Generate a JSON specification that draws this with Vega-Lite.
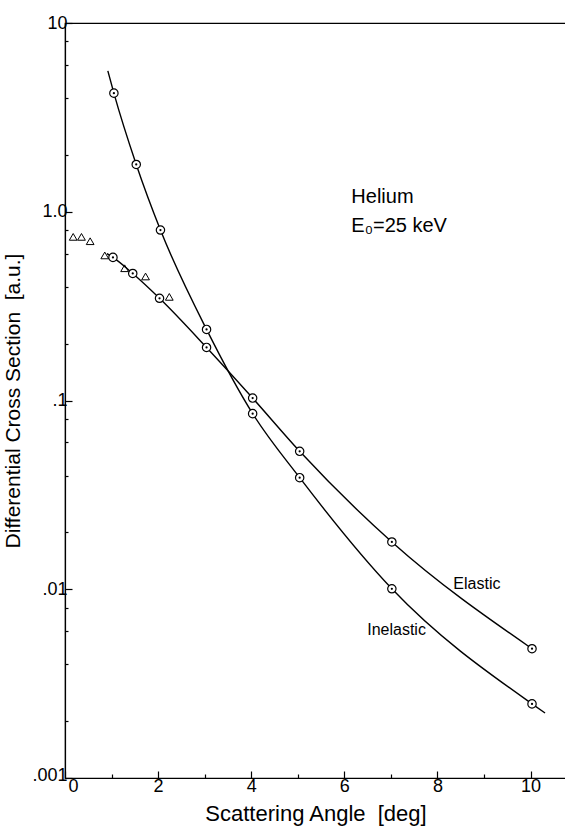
{
  "$schema": "https://vega.github.io/schema/vega-lite/v6.json",
  "width": 501,
  "height": 755,
  "autosize": "none",
  "padding": {"left": 65, "top": 23, "right": 0, "bottom": 54},
  "background": "white",
  "config": {
    "view": {"stroke": "black", "strokeWidth": 1.2},
    "font": "Liberation Sans",
    "axis": {
      "domainColor": "black",
      "tickColor": "black",
      "labelColor": "black",
      "titleColor": "black",
      "labelFont": "Liberation Sans",
      "titleFont": "Liberation Sans",
      "titleFontWeight": "normal",
      "grid": false,
      "ticks": true
    }
  },
  "datasets": {
    "curves": [
      {"series": "Inelastic", "x": 0.92, "y": 5.58},
      {"series": "Inelastic", "x": 1.05, "y": 4.25},
      {"series": "Inelastic", "x": 1.53, "y": 1.78},
      {"series": "Inelastic", "x": 2.05, "y": 0.80},
      {"series": "Inelastic", "x": 3.04, "y": 0.238},
      {"series": "Inelastic", "x": 4.03, "y": 0.0852},
      {"series": "Inelastic", "x": 5.04, "y": 0.039},
      {"series": "Inelastic", "x": 7.02, "y": 0.01006},
      {"series": "Inelastic", "x": 10.03, "y": 0.00247},
      {"series": "Inelastic", "x": 10.31, "y": 0.00221},
      {"series": "Elastic", "x": 0.9, "y": 0.6},
      {"series": "Elastic", "x": 1.03, "y": 0.573},
      {"series": "Elastic", "x": 1.455, "y": 0.471},
      {"series": "Elastic", "x": 2.03, "y": 0.348},
      {"series": "Elastic", "x": 3.04, "y": 0.191},
      {"series": "Elastic", "x": 4.03, "y": 0.103},
      {"series": "Elastic", "x": 5.04, "y": 0.0538},
      {"series": "Elastic", "x": 7.02, "y": 0.0178},
      {"series": "Elastic", "x": 10.03, "y": 0.00484}
    ],
    "circles": [
      {"series": "Inelastic", "x": 1.05, "y": 4.25},
      {"series": "Inelastic", "x": 1.53, "y": 1.78},
      {"series": "Inelastic", "x": 2.05, "y": 0.80},
      {"series": "Inelastic", "x": 3.04, "y": 0.238},
      {"series": "Inelastic", "x": 4.03, "y": 0.0852},
      {"series": "Inelastic", "x": 5.04, "y": 0.039},
      {"series": "Inelastic", "x": 7.02, "y": 0.01006},
      {"series": "Inelastic", "x": 10.03, "y": 0.00247},
      {"series": "Elastic", "x": 1.03, "y": 0.573},
      {"series": "Elastic", "x": 1.455, "y": 0.471},
      {"series": "Elastic", "x": 2.03, "y": 0.348},
      {"series": "Elastic", "x": 3.04, "y": 0.191},
      {"series": "Elastic", "x": 4.03, "y": 0.103},
      {"series": "Elastic", "x": 5.04, "y": 0.0538},
      {"series": "Elastic", "x": 7.02, "y": 0.0178},
      {"series": "Elastic", "x": 10.03, "y": 0.00484}
    ],
    "triangles": [
      {"x": 0.176, "y": 0.736},
      {"x": 0.354, "y": 0.736},
      {"x": 0.54, "y": 0.698},
      {"x": 0.854, "y": 0.587},
      {"x": 1.28, "y": 0.502},
      {"x": 1.73, "y": 0.454},
      {"x": 2.24, "y": 0.354}
    ],
    "notes": [
      {"kind": "main", "x": 6.15, "y": 1.2, "text": "Helium"},
      {"kind": "main", "x": 6.15, "y": 0.84, "text": "E₀=25 keV"},
      {"kind": "curve", "x": 8.34, "y": 0.0107, "text": "Elastic"},
      {"kind": "curve", "x": 6.49, "y": 0.00612, "text": "Inelastic"}
    ]
  },
  "layer": [
    {
      "data": {"name": "curves"},
      "mark": {"type": "line", "color": "black", "strokeWidth": 1.4, "interpolate": "monotone"},
      "encoding": {
        "x": {
          "field": "x", "type": "quantitative",
          "scale": {"domain": [0, 10.76], "nice": false, "zero": false},
          "axis": {
            "orient": "bottom",
            "values": [0, 1, 2, 3, 4, 5, 6, 7, 8, 9, 10],
            "labelExpr": "datum.value % 2 === 0 ? datum.label : ''",
            "labelOffset": {"condition": {"test": "datum.value === 0", "value": 3}, "value": 0},
            "tickSize": {"condition": {"test": "datum.value % 2 === 0", "value": -7}, "value": -4},
            "tickWidth": 1.2,
            "domainWidth": 1.2,
            "labelFontSize": 18,
            "labelPadding": 6,
            "title": "Scattering Angle\u00a0\u00a0[deg]",
            "titleFontSize": 22,
            "titlePadding": 8
          }
        },
        "y": {
          "field": "y", "type": "quantitative",
          "scale": {"type": "log", "domain": [0.001, 10], "nice": false},
          "axis": {
            "orient": "left",
            "values": [0.001, 0.002, 0.004, 0.006, 0.008, 0.01, 0.02, 0.04, 0.06, 0.08, 0.1, 0.2, 0.4, 0.6, 0.8, 1, 2, 4, 6, 8, 10],
            "labelExpr": "datum.value === 10 ? '10' : datum.value === 1 ? '1.0' : datum.value === 0.1 ? '.1' : datum.value === 0.01 ? '.01' : datum.value === 0.001 ? '.001' : ''",
            "labelOffset": {"condition": {"test": "datum.value === 0.001", "value": -3}, "value": 0},
            "tickSize": {"condition": {"test": "indexof([10, 1, 0.1, 0.01, 0.001], datum.value) >= 0", "value": -7}, "value": -3},
            "tickWidth": 1.2,
            "domainWidth": 1.2,
            "labelFontSize": 18,
            "labelPadding": 5,
            "title": "Differential Cross Section\u00a0\u00a0[a.u.]",
            "titleFontSize": 21,
            "titlePadding": 8
          }
        },
        "detail": {"field": "series"}
      }
    },
    {
      "data": {"name": "circles"},
      "mark": {"type": "point", "shape": "circle", "filled": false, "fill": "white", "fillOpacity": 1, "stroke": "black", "strokeWidth": 1.2, "size": 70, "opacity": 1},
      "encoding": {
        "x": {"field": "x", "type": "quantitative"},
        "y": {"field": "y", "type": "quantitative"}
      }
    },
    {
      "data": {"name": "circles"},
      "mark": {"type": "point", "shape": "circle", "filled": true, "color": "black", "size": 5, "opacity": 1},
      "encoding": {
        "x": {"field": "x", "type": "quantitative"},
        "y": {"field": "y", "type": "quantitative"}
      }
    },
    {
      "data": {"name": "triangles"},
      "mark": {"type": "point", "shape": "triangle-up", "filled": false, "stroke": "black", "strokeWidth": 1, "size": 60, "opacity": 1},
      "encoding": {
        "x": {"field": "x", "type": "quantitative"},
        "y": {"field": "y", "type": "quantitative"}
      }
    },
    {
      "data": {"name": "notes"},
      "transform": [{"filter": "datum.kind === 'main'"}],
      "mark": {"type": "text", "align": "left", "baseline": "middle", "fontSize": 20, "color": "black", "font": "Liberation Sans"},
      "encoding": {
        "x": {"field": "x", "type": "quantitative"},
        "y": {"field": "y", "type": "quantitative"},
        "text": {"field": "text"}
      }
    },
    {
      "data": {"name": "notes"},
      "transform": [{"filter": "datum.kind === 'curve'"}],
      "mark": {"type": "text", "align": "left", "baseline": "middle", "fontSize": 16, "color": "black", "font": "Liberation Sans"},
      "encoding": {
        "x": {"field": "x", "type": "quantitative"},
        "y": {"field": "y", "type": "quantitative"},
        "text": {"field": "text"}
      }
    }
  ]
}
